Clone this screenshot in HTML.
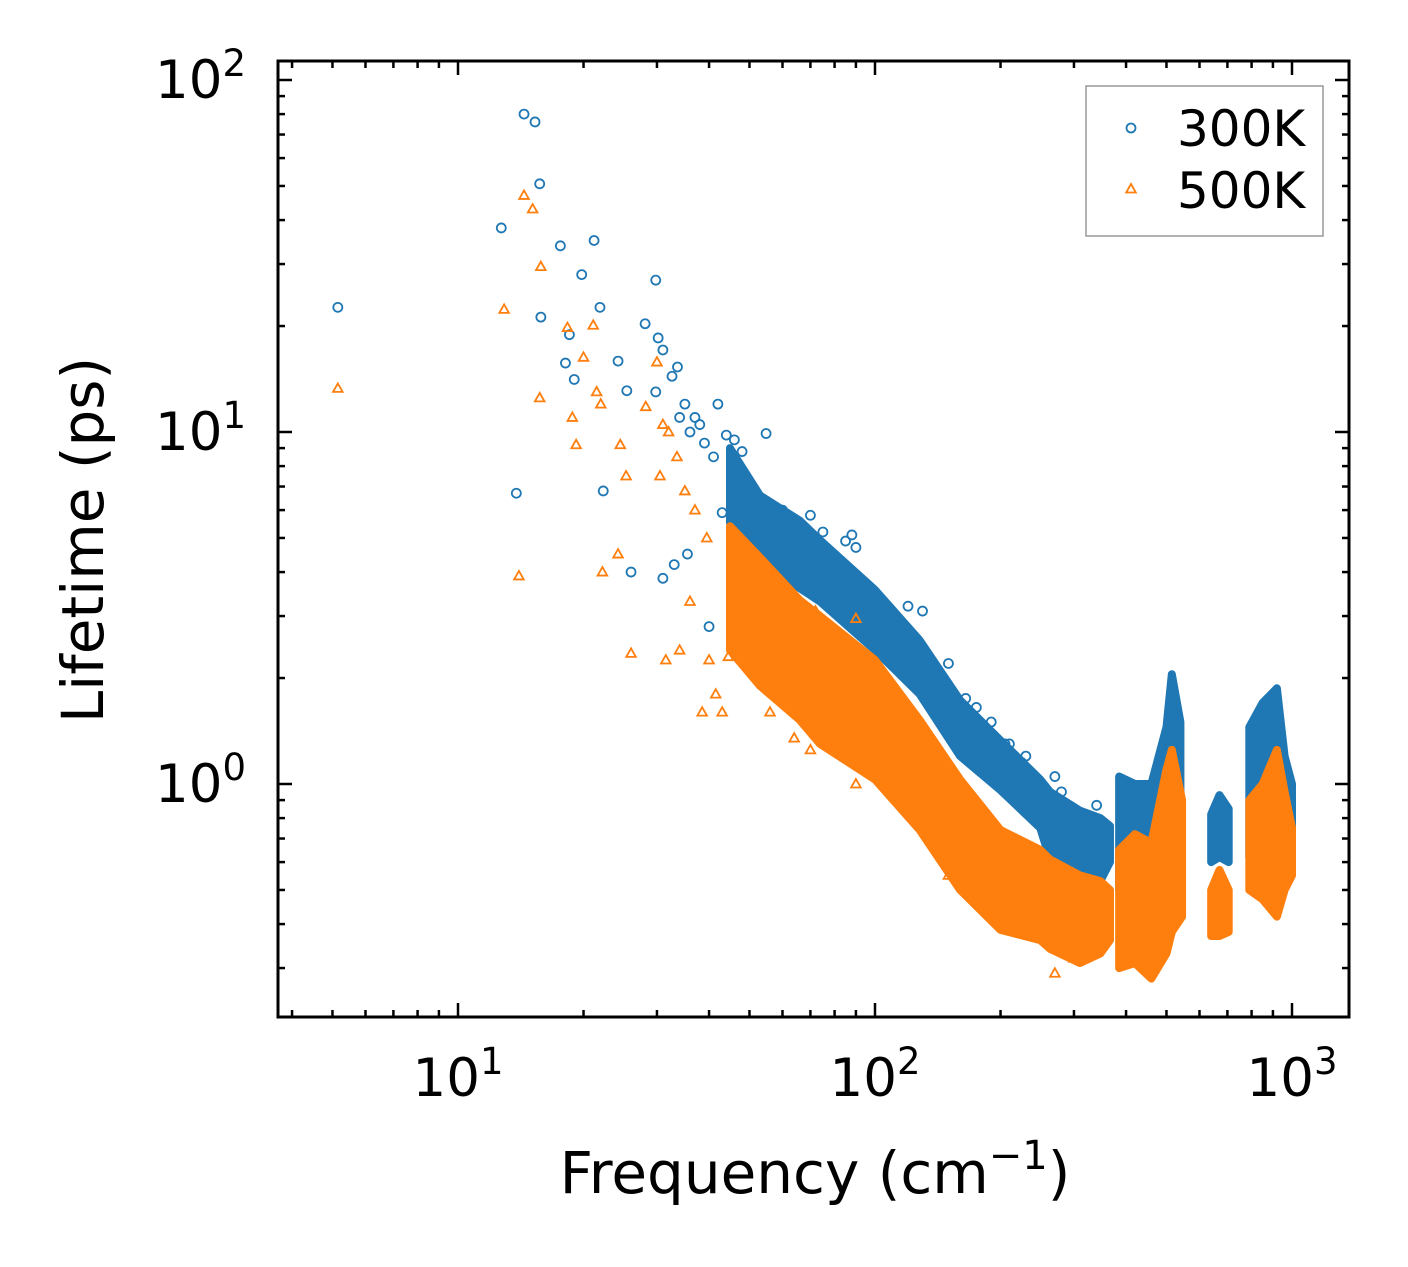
<!DOCTYPE html>
<html><head><meta charset="utf-8"><style>
body{margin:0;background:#fff;}
svg text{font-family:"DejaVu Sans","Liberation Sans",sans-serif;}
</style></head><body>
<svg id="chart" width="1408" height="1267" xmlns="http://www.w3.org/2000/svg" style="position:absolute;left:0;top:0">
<rect width="1408" height="1267" fill="#fff"/>
<g id="marks"></g>
<g id="axes"></g>
</svg>
<script>
// Isolated points [freq cm^-1, lifetime ps]
const blueFreq=[5.15,14.4,15.3,15.7,12.7,17.6,21.2,19.8,21.9,15.8,18.5,18.1,19.0,24.2,25.4,29.8,28.1,30.2,31,32.6,33.6,29.8,13.8,22.3,26,31,54.8,40,35,37,38,42,44,46,48,34,36,39,41,43,33,35.5,60,70,88,120,130,165,190,205,230,270,300,340,90,85,75,62,58,150,175,210,225,250,280,320,47,50,52];
const blueVal=[22.6,80,76,50.7,38,33.8,35,28,22.6,21.2,18.9,15.7,14.1,15.9,13.1,27,20.3,18.5,17.1,14.4,15.3,13,6.7,6.8,4.0,3.84,9.9,2.8,12,11,10.5,12,9.8,9.5,8.8,11,10,9.3,8.5,5.9,4.2,4.5,6.0,5.8,5.1,3.2,3.1,1.75,1.5,1.3,1.2,1.05,0.85,0.87,4.7,4.9,5.2,5.7,6.0,2.2,1.65,1.3,1.15,1.0,0.95,0.82,7.5,7.0,6.5];
const orangeFreq=[5.15,12.9,14.4,15.1,15.8,14.0,15.7,18.3,18.8,19.2,20.0,21.1,21.5,22.0,24.2,25.3,26.0,22.2,24.5,28.2,30.0,31.0,32.0,30.5,31.5,34.0,36.0,38.5,40.0,41.5,43,33.5,35,37,39.5,44.5,50,60,72,80,90,110,140,56,64,70,90,150,200,270,300];
const orangeVal=[13.3,22.3,47,43,29.5,3.9,12.5,19.8,11,9.2,16.3,20.1,13,12,4.5,7.5,2.35,4.0,9.2,11.8,15.8,10.5,10.0,7.5,2.25,2.4,3.3,1.6,2.25,1.8,1.6,8.5,6.8,6.0,5.0,2.3,3.8,3.5,3.1,2.6,2.95,1.9,1.3,1.6,1.35,1.25,1.0,0.55,0.47,0.29,0.32];
// Dense bands [freq, low, high]
const blueBandFreq=[44.9,53,66,73.8,100,128,160,200,249,263,310,347,366];
const blueBandLow=[5.5,4.33,3.6,3.3,2.4,1.8,1.2,0.96,0.75,0.61,0.55,0.53,0.6];
const blueBandHigh=[9.0,6.6,5.6,4.93,3.56,2.56,1.73,1.33,1.03,0.95,0.84,0.8,0.76];
const orangeBandFreq=[44.9,53,66,73.8,100,128,160,200,249,263,310,347,366];
const orangeBandLow=[2.4,1.9,1.52,1.3,1.03,0.74,0.5,0.385,0.36,0.34,0.31,0.33,0.36];
const orangeBandHigh=[5.4,4.4,3.33,3.0,2.25,1.52,1.03,0.74,0.65,0.61,0.55,0.53,0.5];
// Clusters
const blueClusters=[
 {f:[385,420,460,500,515,540],lo:[0.5,0.52,0.55,0.58,0.6,0.62],hi:[1.05,1.0,1.0,1.45,2.05,1.5]},
 {f:[640,670,705],lo:[0.6,0.62,0.6],hi:[0.82,0.93,0.85]},
 {f:[790,850,920,960,1000],lo:[0.62,0.58,0.62,0.62,0.7],hi:[1.45,1.7,1.87,1.2,1.0]}];
const orangeClusters=[
 {f:[385,420,460,500,515,545],lo:[0.3,0.31,0.28,0.33,0.38,0.42],hi:[0.65,0.72,0.68,1.1,1.25,0.9]},
 {f:[640,670,705],lo:[0.37,0.37,0.38],hi:[0.5,0.57,0.5]},
 {f:[790,850,920,960,1000],lo:[0.5,0.47,0.42,0.5,0.55],hi:[0.9,1.0,1.25,0.95,0.75]}];
const xTickVals=[10,100,1000];
const xTickExp=["1","2","3"];
const yTickVals=[1,10,100];
const yTickExp=["0","1","2"];

const L=278,R=1349,T=61,B=1017;
const sx=f=>458+417*(Math.log10(f)-1);
const sy=v=>784-352*Math.log10(v);
const NS="http://www.w3.org/2000/svg";
const marks=document.getElementById('marks'), axes=document.getElementById('axes');
function mk(tag,attrs,parent){const e=document.createElementNS(NS,tag);for(const k in attrs)e.setAttribute(k,attrs[k]);parent.appendChild(e);return e;}
const BL='#1f77b4',OR='#ff7f0e';
function band(fs,lo,hi,col,name){
  let pts=fs.map((f,i)=>sx(f)+','+sy(hi[i]));
  for(let i=fs.length-1;i>=0;i--)pts.push(sx(fs[i])+','+sy(lo[i]));
  const p=mk('polygon',{points:pts.join(' '),fill:col,stroke:col,'stroke-width':8,'stroke-linejoin':'round'},marks);
  
  
}
function circ(x,y,parent){const c=mk('circle',{cx:x,cy:y,r:4.5,fill:'none',stroke:BL,'stroke-width':1.8},parent);
  
  }
function tri(x,y,parent){const t=mk('polygon',{points:`${x},${y-5} ${x-4.8},${y+3.5} ${x+4.8},${y+3.5}`,fill:'none',stroke:OR,'stroke-width':1.8},parent);
  
  }
band(blueBandFreq,blueBandLow,blueBandHigh,BL,'band-300k');
blueClusters.forEach(c=>band(c.f,c.lo,c.hi,BL,'cluster-300k'));
blueFreq.forEach((f,i)=>circ(sx(f),sy(blueVal[i]),marks));
band(orangeBandFreq,orangeBandLow,orangeBandHigh,OR,'band-500k');
orangeClusters.forEach(c=>band(c.f,c.lo,c.hi,OR,'cluster-500k'));
orangeFreq.forEach((f,i)=>tri(sx(f),sy(orangeVal[i]),marks));

mk('rect',{x:L,y:T,width:R-L,height:B-T,fill:'none',stroke:'#000','stroke-width':3},axes);
function tickX(x,len){mk('line',{x1:x,x2:x,y1:B,y2:B-len,stroke:'#000','stroke-width':2.5},axes);mk('line',{x1:x,x2:x,y1:T,y2:T+len,stroke:'#000','stroke-width':2.5},axes);}
function tickY(y,len){mk('line',{x1:L,x2:L+len,y1:y,y2:y,stroke:'#000','stroke-width':2.5},axes);mk('line',{x1:R,x2:R-len,y1:y,y2:y,stroke:'#000','stroke-width':2.5},axes);}
for(let d=0;d<=3;d++)for(let m=1;m<10;m++){const f=m*Math.pow(10,d);const x=sx(f);if(x<L+1||x>R-1)continue;tickX(x,m==1?14:7);}
for(let d=-1;d<=2;d++)for(let m=1;m<10;m++){const v=m*Math.pow(10,d);const y=sy(v);if(y<T+1||y>B-1)continue;tickY(y,m==1?14:7);}
xTickVals.forEach((v,i)=>{const t=mk('text',{x:sx(v),y:1096,'font-size':53,'text-anchor':'middle'},axes);t.textContent='10';
  const s=mk('tspan',{'font-size':37,dy:-22},t);s.textContent=xTickExp[i];
  });
yTickVals.forEach((v,i)=>{const t=mk('text',{x:246,y:sy(v)+18,'font-size':53,'text-anchor':'end'},axes);t.textContent='10';
  const s=mk('tspan',{'font-size':37,dy:-22},t);s.textContent=yTickExp[i];
  });
</script>
<svg style="position:absolute;left:0;top:0" width="1408" height="1267" xmlns="http://www.w3.org/2000/svg">
<text x="815" y="1193" font-size="58" text-anchor="middle">Frequency (cm<tspan font-size="40" dy="-24">−1</tspan><tspan dy="24">)</tspan></text>
<text transform="translate(103,540) rotate(-90)" font-size="58" text-anchor="middle">Lifetime (ps)</text>
<g>
<rect x="1086" y="86" width="237" height="150" fill="#fff" stroke="#999" stroke-width="1.5"/>
<circle cx="1131" cy="128" r="4.5" fill="none" stroke="#1f77b4" stroke-width="1.8"/>
<text x="1177" y="146" font-size="50">300K</text>
<polygon points="1131,184 1126.2,192.5 1135.8,192.5" fill="none" stroke="#ff7f0e" stroke-width="1.8"/>
<text x="1177" y="208" font-size="50">500K</text>
</g>
</svg>
</body></html>
